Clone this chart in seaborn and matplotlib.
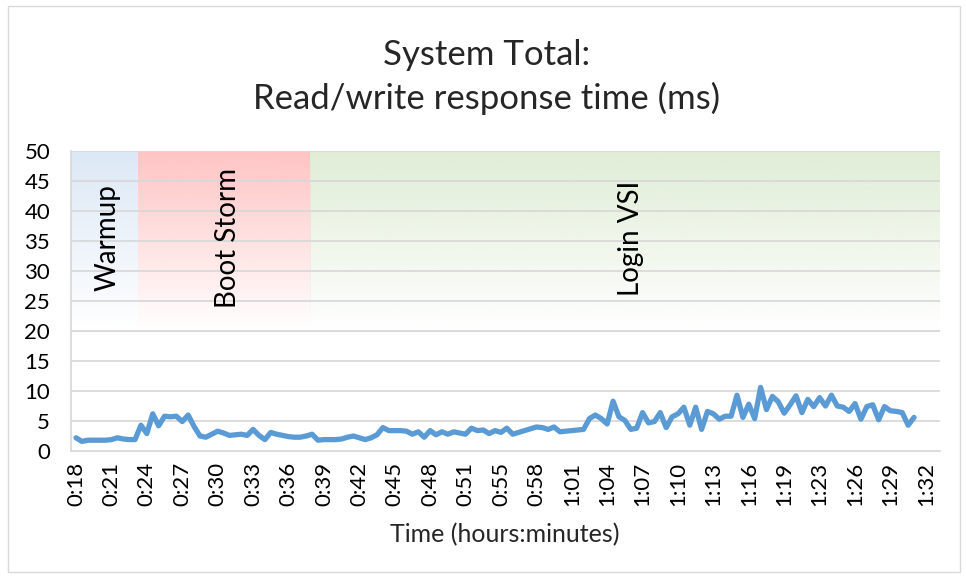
import numpy as np
import pandas as pd
import matplotlib
matplotlib.use("Agg")
import matplotlib.pyplot as plt
from matplotlib.patches import Rectangle
import seaborn as sns

# response time samples (ms), one per ~30 s
resp_ms = [2.2, 1.6, 1.8, 1.8, 1.8, 1.8, 1.9, 2.2, 2.0, 1.9,
           1.9, 4.3, 2.9, 6.2, 4.2, 5.8, 5.7, 5.8, 4.9, 6.0,
           4.1, 2.5, 2.3, 2.8, 3.3, 3.0, 2.6, 2.7, 2.8, 2.6,
           3.6, 2.6, 1.9, 3.1, 2.8, 2.6, 2.4, 2.3, 2.3, 2.5,
           2.8, 1.8, 1.9, 1.9, 1.9, 2.0, 2.3, 2.5, 2.2, 1.9,
           2.2, 2.7, 3.9, 3.4, 3.4, 3.4, 3.3, 2.8, 3.2, 2.3,
           3.4, 2.7, 3.2, 2.8, 3.2, 3.0, 2.8, 3.8, 3.4, 3.5,
           2.9, 3.4, 3.1, 3.8, 2.8, 3.1, 3.4, 3.7, 4.0, 3.9,
           3.6, 4.0, 3.2, 3.3, 3.4, 3.5, 3.6, 5.4, 6.0, 5.4,
           4.5, 8.3, 5.7, 5.1, 3.6, 3.8, 6.4, 4.7, 4.9, 6.4,
           3.9, 5.7, 6.2, 7.3, 4.3, 7.3, 3.6, 6.6, 6.2, 5.3,
           5.8, 5.8, 9.3, 5.6, 7.8, 5.4, 10.6, 6.9, 9.1, 8.2,
           6.3, 7.7, 9.2, 6.4, 8.6, 7.4, 8.9, 7.5, 9.3, 7.5,
           7.3, 6.6, 7.9, 5.3, 7.4, 7.7, 5.2, 7.4, 6.7, 6.6,
           6.4, 4.3, 5.6]

tick_labels = ["0:18", "0:21", "0:24", "0:27", "0:30", "0:33", "0:36", "0:39",
               "0:42", "0:45", "0:48", "0:51", "0:55", "0:58", "1:01", "1:04",
               "1:07", "1:10", "1:13", "1:16", "1:19", "1:23", "1:26", "1:29",
               "1:32"]
label_every = 6

# test phases (sample index where each starts / ends)
phase_names = ["Warmup", "Boot Storm", "Login VSI"]
phase_start = [-0.85, 10.5, 39.7]
phase_end = [10.5, 39.7, 146.4]
phase_colors = ["#dce8f6", "#ffc4c4", "#e0edd6"]

df = pd.DataFrame({"sample": range(len(resp_ms)), "ms": resp_ms})

sns.set_style("white")
plt.rcParams['font.family'] = ['Lato', 'DejaVu Sans']

fig = plt.figure(figsize=(9.66, 5.78), dpi=100)
ax = fig.add_axes([71/966, 1-451/578, (940-71)/966, 300/578])

# gradient phase bands: full colour at top, fading to white at ~20 ms
for name, x0, x1, col in zip(phase_names, phase_start, phase_end, phase_colors):
    rgb = matplotlib.colors.to_rgb(col)
    n = 200
    img = np.ones((n, 1, 4))
    img[:, 0, :3] = rgb
    img[:, 0, 3] = np.linspace(1, 0, n)
    ax.imshow(img, extent=(x0, x1, 20, 50), origin="upper", aspect="auto",
              zorder=0, interpolation="bilinear")
    xt = (x0 + x1) / 2 if name != "Login VSI" else 93.5
    ax.text(xt + 0.6, 35.5, name, rotation=90, ha="center", va="center",
            fontsize=20, color="black", zorder=3)

for y in range(5, 55, 5):
    ax.axhline(y, color="#d9d9d9", lw=1.3, zorder=1)

sns.lineplot(data=df, x="sample", y="ms", ax=ax, color="#5b9bd5",
             linewidth=3.8, zorder=4)

ax.set_xlim(-0.85, 146.4)
ax.set_ylim(0, 50)
ax.set_yticks(range(0, 55, 5))
ax.set_xticks(range(0, len(tick_labels) * label_every, label_every))
ax.set_xticklabels(tick_labels, rotation=90)
ax.tick_params(axis="both", length=0, labelsize=16, colors="black")
ax.tick_params(axis="x", pad=8)
ax.tick_params(axis="y", pad=15)
ax.set_xlabel("")
ax.set_ylabel("")
for s in ["top", "right"]:
    ax.spines[s].set_visible(False)
for s in ["left", "bottom"]:
    ax.spines[s].set_color("#d9d9d9")
    ax.spines[s].set_linewidth(1.3)

fig.text(0.504, 1-55/578, "System Total:", ha="center", va="center", fontsize=25)
fig.text(0.504, 1-98/578, "Read/write response time (ms)", ha="center",
         va="center", fontsize=25)
fig.text(0.523, 1-535/578, "Time (hours:minutes)", ha="center", va="center",
         fontsize=18)

fig.patches.append(Rectangle((8/966, 1-572/578), 952/966, 566/578,
                             transform=fig.transFigure, fill=False,
                             edgecolor="#d9d9d9", lw=1))

fig.savefig("out.png", dpi=100)
